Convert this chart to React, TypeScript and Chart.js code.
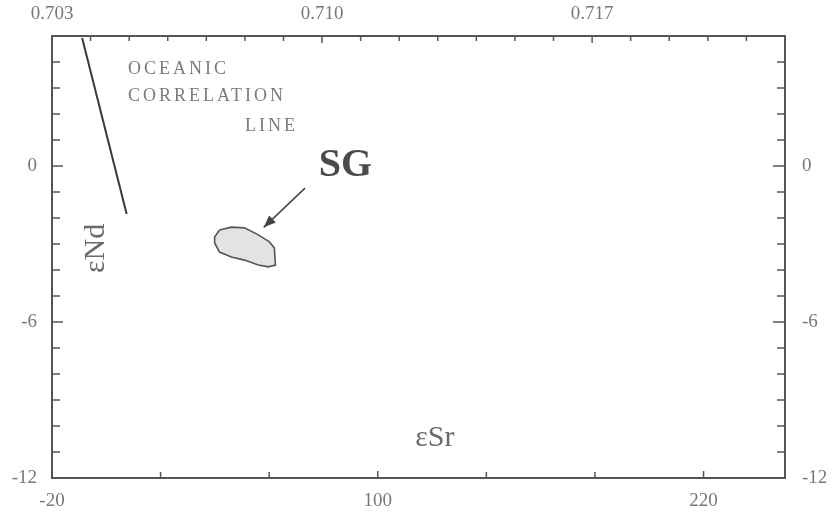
import React, { useEffect, useRef } from 'react';
import { Chart, registerables } from 'chart.js';

Chart.register(...registerables);

// ---- data (εSr on the bottom axis, εNd on the left axis) ----
const oceanicLineSr = [-8.9, 7.5];
const oceanicLineNd = [4.92, -1.85];

const sgFieldSr = [41.7, 46.1, 50.9, 56.0, 60.1, 61.9, 62.3, 59.7, 56.0, 50.9, 46.1, 41.7, 39.9, 39.9, 41.7];
const sgFieldNd = [-2.46, -2.35, -2.38, -2.65, -2.92, -3.15, -3.81, -3.88, -3.81, -3.62, -3.5, -3.31, -2.96, -2.73, -2.46];

const arrowSr = [73.2, 58.0];
const arrowNd = [-0.85, -2.36];

// ---- axes ----
const srMin = -20;
const srMax = 250;
const ratioMin = 0.703;
const ratioMax = 0.722;
const ndMin = -12;
const ndMax = 5;

const srTickValues = [-20, 20, 60, 100, 140, 180, 220];
const srTickLabels = [-20, 100, 220];
const ratioTickValues = [0.703, 0.704, 0.705, 0.706, 0.707, 0.708, 0.709, 0.71, 0.711, 0.712, 0.713, 0.714, 0.715, 0.716, 0.717, 0.718, 0.719, 0.72, 0.721];
const ratioTickLabels = ['0.703', '0.710', '0.717'];
const ndTickValues = [4, 3, 2, 1, 0, -1, -2, -3, -4, -5, -6, -7, -8, -9, -10, -11, -12];
const ndTickLabels = [0, -6, -12];

// ---- text annotations (placed in data coordinates) ----
const notes = [
  { text: 'OCEANIC', sr: 8.0, nd: 3.73, align: 'left', font: '18px "Liberation Serif", serif', color: '#7a7a7a', spacing: '3px', rot: 0 },
  { text: 'CORRELATION', sr: 8.0, nd: 2.69, align: 'left', font: '18px "Liberation Serif", serif', color: '#7a7a7a', spacing: '3px', rot: 0 },
  { text: 'LINE', sr: 70.6, nd: 1.54, align: 'right', font: '18px "Liberation Serif", serif', color: '#7a7a7a', spacing: '3px', rot: 0 },
  { text: 'SG', sr: 88.1, nd: 0.0, align: 'center', font: 'bold 40px "Liberation Serif", serif', color: '#4a4a4a', spacing: '0px', rot: 0 },
  { text: 'εNd', sr: -3.8, nd: -3.17, align: 'center', font: '30px "Liberation Serif", serif', color: '#6a6a6a', spacing: '0px', rot: -Math.PI / 2 },
  { text: 'εSr', sr: 121, nd: -10.46, align: 'center', font: '30px "Liberation Serif", serif', color: '#6a6a6a', spacing: '0px', rot: 0 },
];

const FONT = '"Liberation Serif", "Times New Roman", serif';
const AXIS = '#555555';

const inwardTicks = {
  id: 'inwardTicks',
  afterDraw(chart: any) {
    const ctx = chart.ctx;
    const a = chart.chartArea;
    ctx.save();
    ctx.strokeStyle = AXIS;
    ctx.lineWidth = 1.5;
    const spec: any = {
      x: [6, 7, srTickLabels as any[]],
      x2: [5, 7, ratioTickLabels.map(Number)],
      y: [8, 11, ndTickLabels as any[]],
      y2: [8, 12, ndTickLabels as any[]],
    };
    for (const id of Object.keys(spec)) {
      const s = chart.scales[id];
      const [minor, major, labelled] = spec[id];
      for (const t of s.ticks) {
        const p = s.getPixelForValue(t.value);
        const isMajor = labelled.some((l: number) => Math.abs(l - t.value) < 1e-6);
        const len = isMajor ? major : minor;
        ctx.beginPath();
        if (id === 'x') { ctx.moveTo(p, a.bottom); ctx.lineTo(p, a.bottom - len); }
        if (id === 'x2') { ctx.moveTo(p, a.top); ctx.lineTo(p, a.top + len); }
        if (id === 'y') { ctx.moveTo(a.left, p); ctx.lineTo(a.left + len, p); }
        if (id === 'y2') { ctx.moveTo(a.right, p); ctx.lineTo(a.right - len, p); }
        ctx.stroke();
      }
    }
    ctx.restore();
  },
};

const arrowHead = {
  id: 'arrowHead',
  afterDatasetsDraw(chart: any) {
    const meta = chart.getDatasetMeta(2);
    const pts = meta.data;
    if (!pts || pts.length < 2) return;
    const p0 = pts[0];
    const p1 = pts[1];
    const ang = Math.atan2(p1.y - p0.y, p1.x - p0.x);
    const L = 13;
    const W = 0.38;
    const ctx = chart.ctx;
    ctx.save();
    ctx.fillStyle = '#444';
    ctx.beginPath();
    ctx.moveTo(p1.x, p1.y);
    ctx.lineTo(p1.x - L * Math.cos(ang - W), p1.y - L * Math.sin(ang - W));
    ctx.lineTo(p1.x - L * Math.cos(ang + W), p1.y - L * Math.sin(ang + W));
    ctx.closePath();
    ctx.fill();
    ctx.restore();
  },
};

const textNotes = {
  id: 'textNotes',
  afterDraw(chart: any) {
    const ctx = chart.ctx;
    const xs = chart.scales.x;
    const ys = chart.scales.y;
    for (const n of notes) {
      const px = xs.getPixelForValue(n.sr);
      const py = ys.getPixelForValue(n.nd);
      ctx.save();
      ctx.translate(px, py);
      ctx.rotate(n.rot);
      ctx.font = n.font;
      (ctx as any).letterSpacing = n.spacing;
      ctx.fillStyle = n.color;
      ctx.textAlign = n.align as CanvasTextAlign;
      ctx.textBaseline = 'middle';
      ctx.fillText(n.text, 0, 0);
      ctx.restore();
    }
  },
};

export default function App() {
  const ref = useRef<HTMLCanvasElement | null>(null);

  useEffect(() => {
    if (!ref.current) return;
    const tickFont = { family: FONT, size: 19 };
    const chart = new Chart(ref.current, {
      type: 'scatter',
      data: {
        datasets: [
          {
            label: 'Oceanic correlation line',
            data: oceanicLineSr.map((v, i) => ({ x: v, y: oceanicLineNd[i] })),
            showLine: true,
            borderColor: '#3a3a3a',
            borderWidth: 2,
            pointRadius: 0,
            fill: false,
          },
          {
            label: 'SG',
            data: sgFieldSr.map((v, i) => ({ x: v, y: sgFieldNd[i] })),
            showLine: true,
            borderColor: '#555',
            borderWidth: 1.6,
            backgroundColor: 'rgba(215,215,215,0.7)',
            pointRadius: 0,
            fill: 'shape',
            tension: 0,
          } as any,
          {
            label: 'arrow',
            data: arrowSr.map((v, i) => ({ x: v, y: arrowNd[i] })),
            showLine: true,
            borderColor: '#444',
            borderWidth: 1.5,
            pointRadius: 0,
            fill: false,
          },
        ],
      },
      options: {
        responsive: false,
        animation: false,
        layout: { padding: 0 },
        plugins: { legend: { display: false }, tooltip: { enabled: false } },
        scales: {
          x: {
            type: 'linear',
            position: 'bottom',
            min: srMin,
            max: srMax,
            grid: { display: false, drawTicks: false },
            border: { display: true, color: AXIS, width: 2 },
            afterBuildTicks: (s: any) => { s.ticks = srTickValues.map((v) => ({ value: v })); },
            afterFit: (s: any) => { s.height = 36; },
            ticks: {
              autoSkip: false,
              maxRotation: 0,
              padding: 12,
              color: '#777',
              font: tickFont,
              callback: (v: any) => (srTickLabels.includes(Number(v)) ? String(v) : ''),
            },
          },
          x2: {
            type: 'linear',
            position: 'top',
            min: ratioMin,
            max: ratioMax,
            grid: { display: false, drawTicks: false },
            border: { display: true, color: AXIS, width: 2 },
            afterBuildTicks: (s: any) => { s.ticks = ratioTickValues.map((v) => ({ value: v })); },
            afterFit: (s: any) => { s.height = 36; },
            ticks: {
              autoSkip: false,
              maxRotation: 0,
              padding: 11,
              color: '#777',
              font: tickFont,
              callback: (v: any) => {
                const t = Number(v).toFixed(3);
                return ratioTickLabels.includes(t) ? t : '';
              },
            },
          },
          y: {
            type: 'linear',
            position: 'left',
            min: ndMin,
            max: ndMax,
            grid: { display: false, drawTicks: false },
            border: { display: true, color: AXIS, width: 2 },
            afterBuildTicks: (s: any) => { s.ticks = ndTickValues.map((v) => ({ value: v })); },
            afterFit: (s: any) => { s.width = 52; },
            ticks: {
              autoSkip: false,
              padding: 15,
              color: '#777',
              font: tickFont,
              callback: (v: any) => (ndTickLabels.includes(Number(v)) ? String(v) : ''),
            },
          },
          y2: {
            type: 'linear',
            position: 'right',
            min: ndMin,
            max: ndMax,
            grid: { display: false, drawTicks: false },
            border: { display: true, color: AXIS, width: 2 },
            afterBuildTicks: (s: any) => { s.ticks = ndTickValues.map((v) => ({ value: v })); },
            afterFit: (s: any) => { s.width = 49; },
            ticks: {
              autoSkip: false,
              padding: 17,
              color: '#777',
              font: tickFont,
              callback: (v: any) => (ndTickLabels.includes(Number(v)) ? String(v) : ''),
            },
          },
        },
      },
      plugins: [inwardTicks, arrowHead, textNotes],
    } as any);
    return () => chart.destroy();
  }, []);

  return (
    <div style={{ position: 'absolute', left: 0, top: 0, width: 834, height: 514, background: '#fff' }}>
      <canvas ref={ref} width={834} height={514} />
    </div>
  );
}
